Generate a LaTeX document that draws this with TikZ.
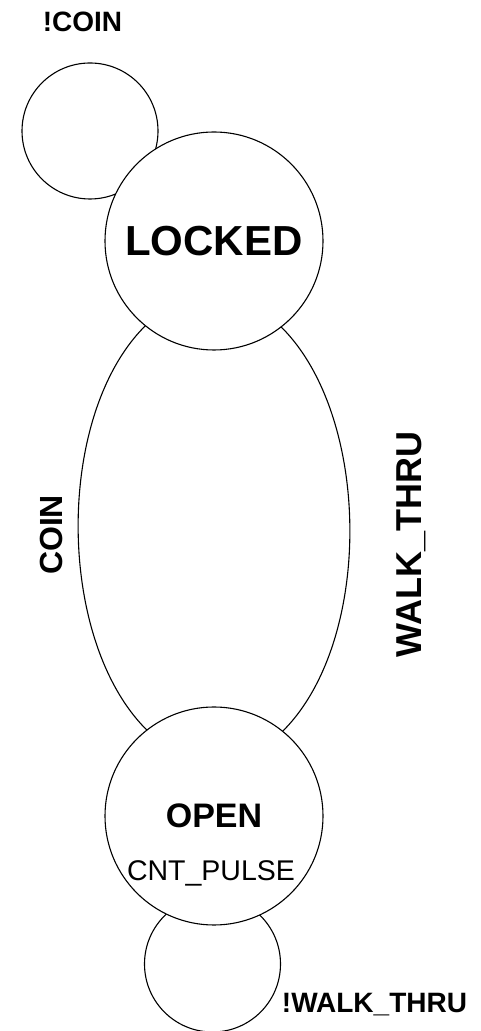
\documentclass[tikz,border=0pt]{standalone}
\usepackage{fontspec}
\setmainfont{Liberation Sans}
\begin{document}
\begin{tikzpicture}[x=1pt,y=1pt,
  line width=1.1pt,
  state/.style={circle, draw, fill=white, minimum size=218pt, inner sep=0pt, outer sep=0pt},
  loopc/.style={circle, draw, minimum size=136pt, inner sep=0pt, outer sep=0pt},
  lbl/.style={inner sep=0pt, anchor=base, font=\bfseries\fontsize{28}{30}\selectfont}]
\useasboundingbox (0,0) rectangle (480,1031);
% self-loops (drawn first, partly covered by the states)
\node[loopc] (lockloop) at (90,900) {};
\node[loopc] (openloop) at (212.5,67) {};
% states
\node[state, font=\bfseries\fontsize{42}{44}\selectfont] (locked) at (214,790) {LOCKED};
\node[state, font=\bfseries\fontsize{34}{36}\selectfont] (open) at (214,215) {OPEN};
% transitions
\draw (locked.231.6) .. controls +(-90.7,-89.8) and +(-90.7,89.8) .. (open.128.4);
\draw (locked.308.4) .. controls +(90.7,-89.8) and +(90.7,89.8) .. (open.51.6);
% labels
\node[lbl] (lnotcoin) at (82.5,999) {!COIN};
\node[lbl, font=\bfseries\fontsize{32}{34}\selectfont, rotate=90] (lcoin) at (62,496) {COIN};
\node[lbl, font=\bfseries\fontsize{36}{38}\selectfont, rotate=90] (lwalk) at (421.5,486.5) {WALK\_THRU};
\node[lbl, font=\fontsize{28.5}{30}\selectfont] (lpulse) at (211,150) {CNT\_PULSE};
\node[lbl] (lnotwalk) at (374.5,18) {!WALK\_THRU};
\end{tikzpicture}
\end{document}
